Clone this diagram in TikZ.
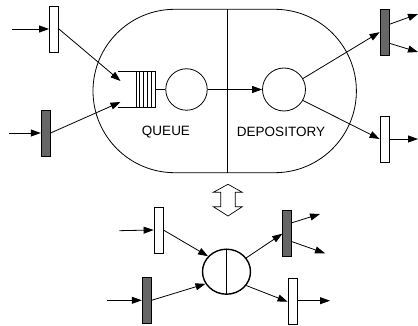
\documentclass[tikz,border=0pt]{standalone}
\usepackage{fontspec}
\setmainfont{Liberation Sans}
\usetikzlibrary{arrows.meta,shapes.geometric}
\begin{document}
\begin{tikzpicture}[x=1pt,y=-1pt,line width=0.8pt,
  wbar/.style={draw,fill=white,minimum width=9pt,minimum height=46pt,inner sep=0pt},
  dbar/.style={draw,fill=black!60,minimum width=9pt,minimum height=46pt,inner sep=0pt},
  arr/.style={-{Triangle[length=10pt,width=7pt]}},
  lbl/.style={font=\fontsize{13.5}{15}\selectfont,inner sep=0pt},
  circ/.style={draw,circle,minimum size=42pt,inner sep=0pt}]
\useasboundingbox (0,0) rectangle (418,326);
% big stadium
\draw (174.7,9.3) -- (274.7,9.3) arc[start angle=-90,end angle=90,radius=81.7]
  -- (174.7,172.7) arc[start angle=90,end angle=270,radius=81.7] -- cycle;
\draw (227.5,9.3) -- (227.5,172.7);
% queue
\coordinate (qt) at (118.3,71.7);
\coordinate (qb) at (118.3,107.7);
\draw (qt) -- (155.7,71.7) -- (155.7,107.7) -- (qb);
\foreach \x in {136,139.3,143,147,151}{\draw (\x,71.7) -- (\x,107.7);}
\coordinate (qin1) at (120.5,81);
\coordinate (qin2) at (120.5,102);
\coordinate (qout) at (155.7,89.5);
\node[circ,minimum size=41.5pt] (c1) at (186.5,89.5) {};
\node[circ,minimum size=43pt] (c2) at (284,89.5) {};
\draw (qout) -- (c1.west);
\draw[arr] (c1.east) -- (c2.west);
\node[lbl] (tq) at (166,132.3) {QUEUE};
\node[lbl] (td) at (281,132.3) {DEPOSITORY};
% top bars
\node[wbar] (b1) at (54,29) {};
\node[dbar] (b2) at (45.7,133) {};
\coordinate (i1) at (12,29);
\coordinate (i2) at (9,133);
\draw[arr] (i1) -- (b1.west);
\draw[arr] (i2) -- (b2.west);
\draw[arr] (b1.east) -- (qin1);
\draw[arr] (b2.east) -- (qin2);
\node[dbar] (b3) at (384.5,32.2) {};
\node[wbar] (b4) at (384.5,139) {};
\draw[arr] (c2.30) -- (b3.west);
\draw[arr] (c2.-30) -- (b4.west);
\coordinate (o1) at (418,14);
\coordinate (o2) at (418,52);
\coordinate (o3) at (418,139);
\draw[arr] (b3.east |- 0,24.3) -- (o1);
\draw[arr] (b3.east |- 0,43.3) -- (o2);
\draw[arr] (b4.east) -- (o3);
% double hollow arrow
\draw[line width=0.7pt] (228,184.3) -- (242.3,192.3) -- (235.3,192.3) -- (235.3,206.7) -- (242.3,206.7)
  -- (228,216) -- (213.3,206.7) -- (220.7,206.7) -- (220.7,192.3) -- (213.3,192.3) -- cycle;
% bottom part
\node[draw,ellipse,line width=1.4pt,minimum width=48pt,minimum height=45pt,inner sep=0pt] (e) at (226.5,271.7) {};
\draw[line width=1.4pt] (e.north) -- (e.south);
\node[wbar] (b5) at (158.5,230) {};
\node[dbar] (b6) at (146.7,300.3) {};
\node[dbar] (b7) at (287.2,233.7) {};
\node[wbar] (b8) at (292.5,301.7) {};
\coordinate (i5) at (119.3,230.7);
\coordinate (i6) at (107.3,300.3);
\draw[arr] (i5) -- (b5.west);
\draw[arr] (i6) -- (b6.west);
\draw[arr] (b5.east) -- (e.140);
\draw[arr] (b6.east) -- (e.-150);
\draw[arr] (e.35) -- (b7.west);
\draw[arr] (e.-35) -- (b8.west);
\coordinate (o5) at (320,214);
\coordinate (o6) at (325,253.3);
\coordinate (o7) at (330,300.7);
\draw[arr] (b7.east |- 0,222.7) -- (o5);
\draw[arr] (b7.east |- 0,241.7) -- (o6);
\draw[arr] (b8.east |- 0,300.7) -- (o7);
\end{tikzpicture}
\end{document}
